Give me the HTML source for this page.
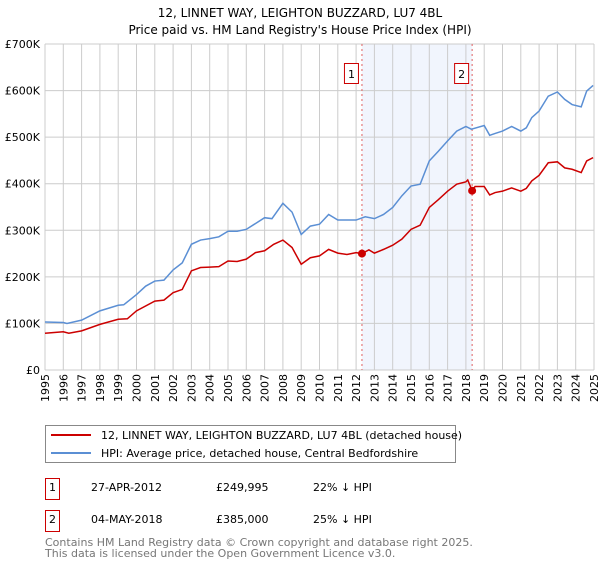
<!DOCTYPE html>
<html><head><meta charset="utf-8"><style>
body{margin:0;background:#fff;font-family:"Liberation Sans","DejaVu Sans",sans-serif;}
svg text{font-family:"DejaVu Sans","Liberation Sans",sans-serif;}
</style></head><body>
<svg id="c" width="600" height="560" viewBox="0 0 600 560" xmlns="http://www.w3.org/2000/svg">
<text x="300" y="17" text-anchor="middle" font-size="12">12, LINNET WAY, LEIGHTON BUZZARD, LU7 4BL</text>
<text x="300" y="34" text-anchor="middle" font-size="12">Price paid vs. HM Land Registry's House Price Index (HPI)</text>
<g id="grid"></g><g id="marks"></g><g id="axes"></g>
<rect x="45.5" y="425.5" width="410" height="37" fill="#fff" stroke="#888"/>
<line x1="51" y1="435" x2="91" y2="435" stroke="#cc0000" stroke-width="2"/>
<text x="101" y="439" font-size="11">12, LINNET WAY, LEIGHTON BUZZARD, LU7 4BL (detached house)</text>
<line x1="51" y1="453" x2="91" y2="453" stroke="#5b8fd4" stroke-width="2"/>
<text x="101" y="457" font-size="11">HPI: Average price, detached house, Central Bedfordshire</text>
<rect x="45.5" y="478.5" width="14" height="21" fill="#fff" stroke="#cc0000"/>
<text x="52.5" y="491" font-size="11" text-anchor="middle">1</text>
<text x="91" y="491" font-size="11">27-APR-2012</text>
<text x="216" y="491" font-size="11">£249,995</text>
<text x="313" y="491" font-size="11">22% ↓ HPI</text>
<rect x="45.5" y="510.5" width="14" height="21" fill="#fff" stroke="#cc0000"/>
<text x="52.5" y="523" font-size="11" text-anchor="middle">2</text>
<text x="91" y="523" font-size="11">04-MAY-2018</text>
<text x="216" y="523" font-size="11">£385,000</text>
<text x="313" y="523" font-size="11">25% ↓ HPI</text>
<text x="45" y="546" font-size="11" fill="#777">Contains HM Land Registry data © Crown copyright and database right 2025.</text>
<text x="45" y="557" font-size="11" fill="#777">This data is licensed under the Open Government Licence v3.0.</text>
</svg>
<script>
const yearTicks=[1995,1996,1997,1998,1999,2000,2001,2002,2003,2004,2005,2006,2007,2008,2009,2010,2011,2012,2013,2014,2015,2016,2017,2018,2019,2020,2021,2022,2023,2024,2025];
const valueTicks=[0,100000,200000,300000,400000,500000,600000,700000];
const valueLabels=["£0","£100K","£200K","£300K","£400K","£500K","£600K","£700K"];
const hpiYears=[1995,1996,1996.2,1997,1998,1999,1999.3,2000,2000.5,2001,2001.5,2002,2002.5,2003,2003.5,2004,2004.5,2005,2005.5,2006,2007,2007.4,2008,2008.5,2009,2009.5,2010,2010.5,2011,2011.5,2012,2012.5,2013,2013.5,2014,2014.5,2015,2015.5,2016,2016.5,2017,2017.5,2018,2018.3,2019,2019.3,2019.6,2020,2020.5,2021,2021.3,2021.6,2022,2022.5,2023,2023.4,2023.8,2024.3,2024.6,2024.95];
const hpiValues=[103,102,100,107,127,139,140,162,180,191,193,215,230,270,279,282,286,298,298,302,327,325,358,339,291,309,313,334,322,322,322,329,325,334,349,374,395,399,449,470,492,513,523,517,525,504,508,513,523,513,520,542,556,588,597,581,570,565,599,611];
const propYears=[1995,1996,1996.3,1997,1998,1999,1999.5,2000,2001,2001.5,2002,2002.5,2003,2003.5,2004,2004.5,2005,2005.5,2006,2006.5,2007,2007.5,2008,2008.5,2009,2009.5,2010,2010.5,2011,2011.5,2012,2012.32,2012.7,2013,2013.5,2014,2014.5,2015,2015.5,2016,2016.5,2017,2017.5,2018,2018.1,2018.34,2018.5,2019,2019.3,2019.6,2020,2020.5,2021,2021.3,2021.6,2022,2022.5,2023,2023.4,2023.8,2024.3,2024.6,2024.95];
const propValues=[79,82,79,84,98,109,110,127,148,150,166,173,213,220,221,222,234,233,238,252,256,270,279,263,227,241,245,259,251,248,252,250,258,251,259,268,281,302,311,349,366,384,399,404,408,385,394,394,376,381,384,391,384,390,406,418,445,447,434,431,424,449,456];
const saleYears=[2012.32,2018.34];
const salePrices=[249995,385000];
const saleLabels=["1","2"];
const NS="http://www.w3.org/2000/svg";
const X0=45,X1=594,Y0=370,Y1=44;
function xs(y){return X0+(y-1995)/30*(X1-X0);}
function ys(v){return Y0-v/700000*(Y0-Y1);}
function mk(t,a,p){const e=document.createElementNS(NS,t);for(const k in a)e.setAttribute(k,a[k]);p.appendChild(e);return e;}
const grid=document.getElementById('grid'),marks=document.getElementById('marks'),axes=document.getElementById('axes');
const sh=mk('rect',{x:xs(saleYears[0]),y:Y1,width:xs(saleYears[1])-xs(saleYears[0]),height:Y0-Y1,fill:'#eef3fd',opacity:0.8},grid);


yearTicks.forEach(y=>{const l=mk('line',{x1:xs(y),x2:xs(y),y1:Y1,y2:Y0,stroke:'#cccccc'},grid);


const t=mk('text',{x:0,y:0,'font-size':11,'text-anchor':'end',transform:`translate(${xs(y)+4},374) rotate(-90)`},axes);t.textContent=y;

});
valueTicks.forEach((v,i)=>{const l=mk('line',{x1:X0,x2:X1,y1:ys(v),y2:ys(v),stroke:'#cccccc'},grid);


const t=mk('text',{x:40,y:ys(v)+4,'font-size':11,'text-anchor':'end'},axes);t.textContent=valueLabels[i];

});
saleYears.forEach((y,i)=>{const l=mk('line',{x1:xs(y),x2:xs(y),y1:Y1,y2:Y0,stroke:'#e06060','stroke-dasharray':'2,3'},grid);


const b=mk('rect',{x:xs(y)-17.5,y:63.5,width:14,height:20,fill:'#fff',stroke:'#cc0000'},marks);


const t=mk('text',{x:xs(y)-10.5,y:78,'font-size':11,'text-anchor':'middle'},marks);t.textContent=saleLabels[i];

});
const hp=mk('polyline',{points:hpiYears.map((y,i)=>xs(y)+','+ys(hpiValues[i]*1000)).join(' '),fill:'none',stroke:'#5b8fd4','stroke-width':1.5},marks);


const pp=mk('polyline',{points:propYears.map((y,i)=>xs(y)+','+ys(propValues[i]*1000)).join(' '),fill:'none',stroke:'#cc0000','stroke-width':1.5},marks);


saleYears.forEach((y,i)=>{const c=mk('circle',{cx:xs(y),cy:ys(salePrices[i]),r:4,fill:'#cc0000'},marks);

});
</script>
</body></html>
